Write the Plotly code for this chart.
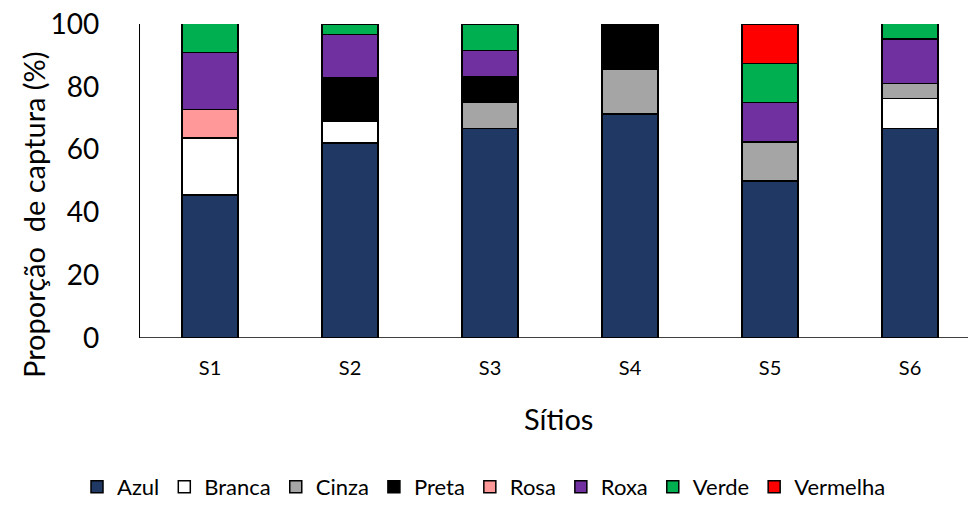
import plotly.graph_objects as go

# Capture proportions (%) per site and colour morph
sites = ["S1", "S2", "S3", "S4", "S5", "S6"]
azul = [45.5, 62.1, 66.7, 71.4, 50.0, 66.7]
branca = [18.2, 6.9, 0, 0, 0, 9.5]
cinza = [0, 0, 8.3, 14.3, 12.5, 4.8]
preta = [0, 13.8, 8.3, 14.3, 0, 0]
rosa = [9.1, 0, 0, 0, 0, 0]
roxa = [18.2, 13.8, 8.3, 0, 12.5, 14.3]
verde = [9.1, 3.4, 8.3, 0, 12.5, 4.8]
vermelha = [0, 0, 0, 0, 12.5, 0]

series = [
    ("Azul", azul, "#203864"),
    ("Branca", branca, "#FFFFFF"),
    ("Cinza", cinza, "#A5A5A5"),
    ("Preta", preta, "#000000"),
    ("Rosa", rosa, "#FF9999"),
    ("Roxa", roxa, "#7030A0"),
    ("Verde", verde, "#00B050"),
    ("Vermelha", vermelha, "#FF0000"),
]

FONT = "Lato, 'Open Sans', sans-serif"

fig = go.Figure()
for name, vals, color in series:
    fig.add_trace(go.Bar(
        x=sites, y=vals, name=name, width=0.4,
        marker=dict(color=color, line=dict(color="#000000", width=1.5)),
    ))

fig.update_layout(
    barmode="stack",
    width=968, height=508,
    margin=dict(l=140, r=0, t=24, b=170, autoexpand=False),
    paper_bgcolor="white", plot_bgcolor="white",
    font=dict(family=FONT, color="#000000"),
    showlegend=True,
    legend=dict(
        orientation="h", x=0.5, xref="container", xanchor="center",
        y=0.0, yref="container", yanchor="bottom",
        font=dict(size=22, family=FONT), traceorder="normal",
        itemwidth=30,
    ),
    xaxis=dict(
        range=[-0.5, 5.414], showgrid=False, zeroline=False,
        showline=False, ticks="", automargin=False,
        tickfont=dict(size=20, family=FONT),
        ticklabelstandoff=16,
    ),
    yaxis=dict(
        range=[0, 100], dtick=20, showgrid=False, zeroline=False,
        showline=True, linecolor="#000000", linewidth=1.2, ticks="",
        automargin=False,
        tickfont=dict(size=28, family=FONT),
        ticklabelstandoff=34,
    ),
)

# Axis titles
fig.add_annotation(text="Sítios", xref="paper", yref="paper",
                   x=(558 - 140) / 828, y=(338 - 418) / 314,
                   xanchor="center", yanchor="middle", showarrow=False,
                   font=dict(size=29, family=FONT))
fig.add_annotation(text="Proporção  de captura (%)", xref="paper", yref="paper",
                   x=(33 - 140) / 828, y=(338 - 215) / 314, textangle=-90,
                   xanchor="center", yanchor="middle", showarrow=False,
                   font=dict(size=29, family=FONT))

# Horizontal baseline across the category axis
fig.add_shape(type="line", xref="paper", yref="y", x0=0, x1=1, y0=0, y1=0,
              line=dict(color="#000000", width=1.5), layer="above")

fig.write_html("out.html")
